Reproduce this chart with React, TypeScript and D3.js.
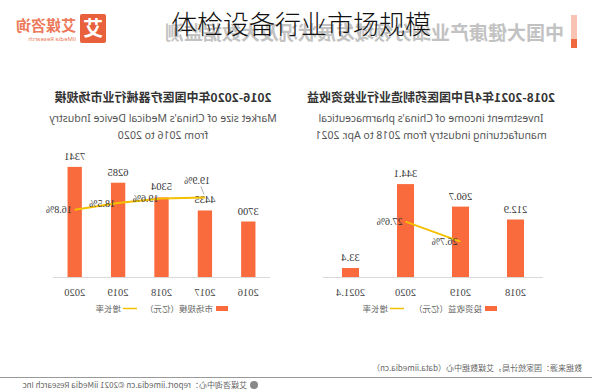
import React from "react";
import * as d3 from "d3";

// 2016-2020 medical device market size (亿元) and growth
const yearsA = ["2016", "2017", "2018", "2019", "2020"];
const sizeA = [3700, 4435, 5304, 6285, 7341];
const growthA: (number | null)[] = [null, 19.9, 19.6, 18.5, 16.8];

// 2018-2021.4 pharma manufacturing investment income (亿元) and growth
const yearsB = ["2018", "2019", "2020", "2021.4"];
const incomeB = [212.9, 260.7, 344.1, 33.4];
const growthB: (number | null)[] = [null, 26.7, 27.6, null];

const BAR = "#f96a3c";
const LINE = "#f5c000";
const CJK = "'Noto Sans CJK SC', 'Noto Sans', sans-serif";
const NUM = "'Liberation Serif', serif";

type ChartProps = {
  cats: string[];
  values: number[];
  growth: (number | null)[];
  x0: number;
  x1: number;
  padIn: number;
  yMax: number;
  yTop: number;
  gDomain: [number, number];
  gTop: number;
  title: string;
  sub: string[];
  cx: number;
  barLabel: string;
  legendX: number;
  lineLegendX: number;
  raised?: number;
};

const base = 277;

function BarLine(p: ChartProps) {
  const x = d3
    .scaleBand()
    .domain(p.cats)
    .range([p.x0, p.x1])
    .paddingInner(p.padIn)
    .paddingOuter(p.padIn / 2);
  const y = d3.scaleLinear().domain([0, p.yMax]).range([base, p.yTop]);
  const g = d3.scaleLinear().domain(p.gDomain).range([base, p.gTop]);
  const cx = (c: string) => (x(c) as number) + x.bandwidth() / 2;

  const pts = p.cats
    .map((c, i) => ({ c, v: p.growth[i] }))
    .filter((d) => d.v != null) as { c: string; v: number }[];
  const line = d3
    .line<{ c: string; v: number }>()
    .x((d) => cx(d.c))
    .y((d) => g(d.v));

  return (
    <g>
      <text x={p.cx} y={102} textAnchor="middle" fontFamily={CJK} fontSize={12} fontWeight="bold" fill="#333">
        {p.title}
      </text>
      {p.sub.map((s, i) => (
        <text key={i} x={p.cx} y={122 + i * 17} textAnchor="middle" fontFamily="'Noto Sans', sans-serif" fontSize={10.5} fill="#555">
          {s}
        </text>
      ))}
      <line x1={p.x0} x2={p.x1} y1={base + 0.5} y2={base + 0.5} stroke="#d9d9d9" />
      {p.cats.map((c, i) => (
        <g key={c}>
          <rect x={x(c)} y={y(p.values[i])} width={x.bandwidth()} height={base - y(p.values[i])} fill={BAR} />
          <text x={cx(c)} y={y(p.values[i]) - 7} textAnchor="middle" fontFamily={NUM} fontSize={10.5} fill="#333">
            {p.values[i]}
          </text>
          <text x={cx(c)} y={296} textAnchor="middle" fontFamily={NUM} fontSize={10.5} fill="#444">
            {c}
          </text>
        </g>
      ))}
      <path d={line(pts) || ""} fill="none" stroke={LINE} strokeWidth={2} />
      {pts.map((d, i) => {
        const px = cx(d.c);
        const py = g(d.v);
        const up = p.raised === i;
        return (
          <g key={d.c}>
            {up && <line x1={px + 1} y1={py - 3} x2={px + 4} y2={py - 11} stroke="#999" strokeWidth={0.8} />}
            <text
              x={up ? px - 5 : px + 3}
              y={up ? py - 13 : py + 3.5}
              fontFamily={NUM}
              fontSize={10}
              fill="#333"
            >
              {d.v.toFixed(1)}%
            </text>
          </g>
        );
      })}
      <rect x={p.legendX} y={306} width={12} height={5} fill={BAR} />
      <text x={p.legendX + 15} y={311.5} fontFamily={CJK} fontSize={8.5} fill="#666">
        {p.barLabel}
      </text>
      <line x1={p.lineLegendX} x2={p.lineLegendX + 14} y1={308.5} y2={308.5} stroke={LINE} strokeWidth={1.5} />
      <text x={p.lineLegendX + 16} y={311.5} fontFamily={CJK} fontSize={8.5} fill="#666">
        增长率
      </text>
    </g>
  );
}

export default function App() {
  return (
    <svg width={600} height={390} style={{ position: "absolute", left: 0, top: 0, background: "#fff" }}>
      {/* the source picture is horizontally mirrored */}
      <g transform="translate(600,0) scale(-1,1)">
        <rect x={23} y={15} width={6} height={24} fill="#f9c3b3" />
        <rect x={23} y={39} width={6} height={9} fill="#f0683f" />
        <text x={36} y={40} fontFamily={CJK} fontSize={19} fontWeight="bold" fill="#c2c2c2">
          中国大健康产业细分领域发展状况及大数据监测
        </text>
        <rect x={494} y={14} width={26} height={29} rx={2} fill="#e8603c" />
        <text x={507} y={36} textAnchor="middle" fontFamily={CJK} fontSize={20} fontWeight="bold" fill="#fff">
          艾
        </text>
        <text x={524} y={31} fontFamily={CJK} fontSize={15} fontWeight="bold" fill="#ec7a5a">
          艾媒咨询
        </text>
        <text x={524} y={41} fontFamily="'Noto Sans', sans-serif" fontSize={6} fill="#ec7a5a">
          iiMedia Research
        </text>

        <BarLine
          cats={yearsB}
          values={incomeB}
          growth={growthB}
          x0={57}
          x1={277}
          padIn={0.69}
          yMax={400}
          yTop={169}
          gDomain={[25.1, 29.3]}
          gTop={184}
          title="2018-2021年4月中国医药制造业行业投资收益"
          sub={["Investment income of China's pharmaceutical", "manufacturing industry from 2018 to Apr. 2021"]}
          cx={169}
          barLabel="投资收益（亿元）"
          legendX={103}
          lineLegendX={196}
        />
        <BarLine
          cats={yearsA}
          values={sizeA}
          growth={growthA}
          x0={330}
          x1={547}
          padIn={0.67}
          yMax={8000}
          yTop={157}
          gDomain={[0, 30]}
          gTop={157}
          title="2016-2020年中国医疗器械行业市场规模"
          sub={["Market size of China's Medical Device Industry", "from 2016 to 2020"]}
          cx={437}
          barLabel="市场规模（亿元）"
          legendX={372}
          lineLegendX={463}
          raised={0}
        />

        <text x={18} y={371} fontFamily={CJK} fontSize={8} fill="#666">
          数据来源：国家统计局，艾媒数据中心（data.iimedia.cn）
        </text>
        <line x1={8} x2={600} y1={377.5} y2={377.5} stroke="#999" />
        <circle cx={346} cy={385} r={4} fill="#888" />
        <text x={353} y={388} fontFamily={CJK} fontSize={8} fill="#666">
          艾媒咨询中心：report.iimedia.cn ©2021 iiMedia Research Inc
        </text>
      </g>
      <text x={301} y={34} textAnchor="middle" fontFamily={CJK} fontSize={26} fontWeight={300} fill="#111">
        体检设备行业市场规模
      </text>
    </svg>
  );
}
